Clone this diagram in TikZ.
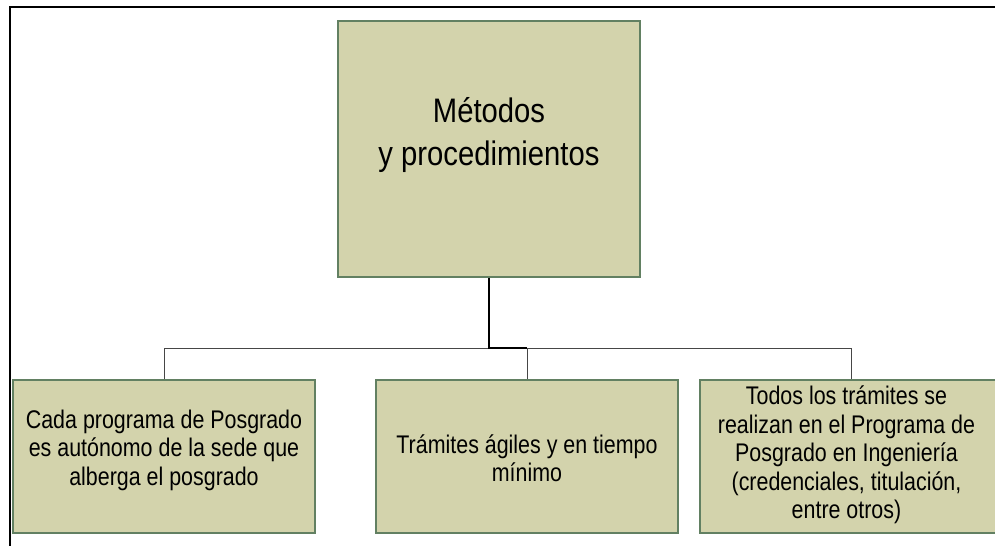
\documentclass[tikz,border=0pt]{standalone}
\usepackage{fontspec}
\setmainfont{Liberation Sans}
\newfontfamily\boxfont[FakeStretch=0.84]{Liberation Sans}
\newfontfamily\mainfont[FakeStretch=0.86]{Liberation Sans}
\definecolor{boxfill}{RGB}{211,211,172}
\definecolor{boxline}{RGB}{98,128,98}
\definecolor{thinline}{RGB}{70,70,70}
\begin{document}
\begin{tikzpicture}[x=1pt,y=-1pt,
  box/.style={draw=boxline,fill=boxfill,line width=1.3pt,rectangle,inner sep=0pt},
  smallbox/.style={box,minimum width=302,minimum height=153},
  boxtext/.style={align=center,font=\boxfont\fontsize{25.5}{28.5}\selectfont,inner sep=0pt},
  thinconn/.style={draw=thinline,line width=1pt},
  thickconn/.style={draw=black,line width=2.2pt}]
\useasboundingbox (0,0) rectangle (995,546);
\fill[white] (0,0) rectangle (995,546);
% frame
\draw[line width=1.8pt] (995,7) -- (10,7) -- (10,546);
% main box
\node[box,minimum width=302,minimum height=256] (main) at (489,149) {};
\node[align=center,font=\mainfont\fontsize{34}{43}\selectfont,inner sep=0pt] (maintext) at (489,135) {Métodos\\ y procedimientos};
% bottom boxes
\node[smallbox] (b1) at (164,456.5) {};
\node[smallbox] (b2) at (527,456.5) {};
\node[smallbox] (b3) at (851,456.5) {};
\node[boxtext] (t1) at (164,450) {Cada programa de Posgrado\\es autónomo de la sede que\\alberga el posgrado};
\node[boxtext] (t2) at (527,458) {Trámites ágiles y en tiempo\\mínimo};
\node[boxtext] (t3) at (846.5,455) {Todos los trámites se\\realizan en el Programa de\\Posgrado en Ingeniería\\(credenciales, titulación,\\entre otros)};
% connectors
\coordinate (h1) at (164,348);
\coordinate (h2) at (527,348);
\coordinate (h3) at (851,348);
\coordinate (hm) at (489,348);
\draw[thinconn] (b1.north) -- (h1) -- (h3) -- (b3.north);
\draw[thinconn] (h2) -- (b2.north);
\draw[thickconn,line join=miter] (main.south) -- (hm) -- (h2);
\end{tikzpicture}
\end{document}
